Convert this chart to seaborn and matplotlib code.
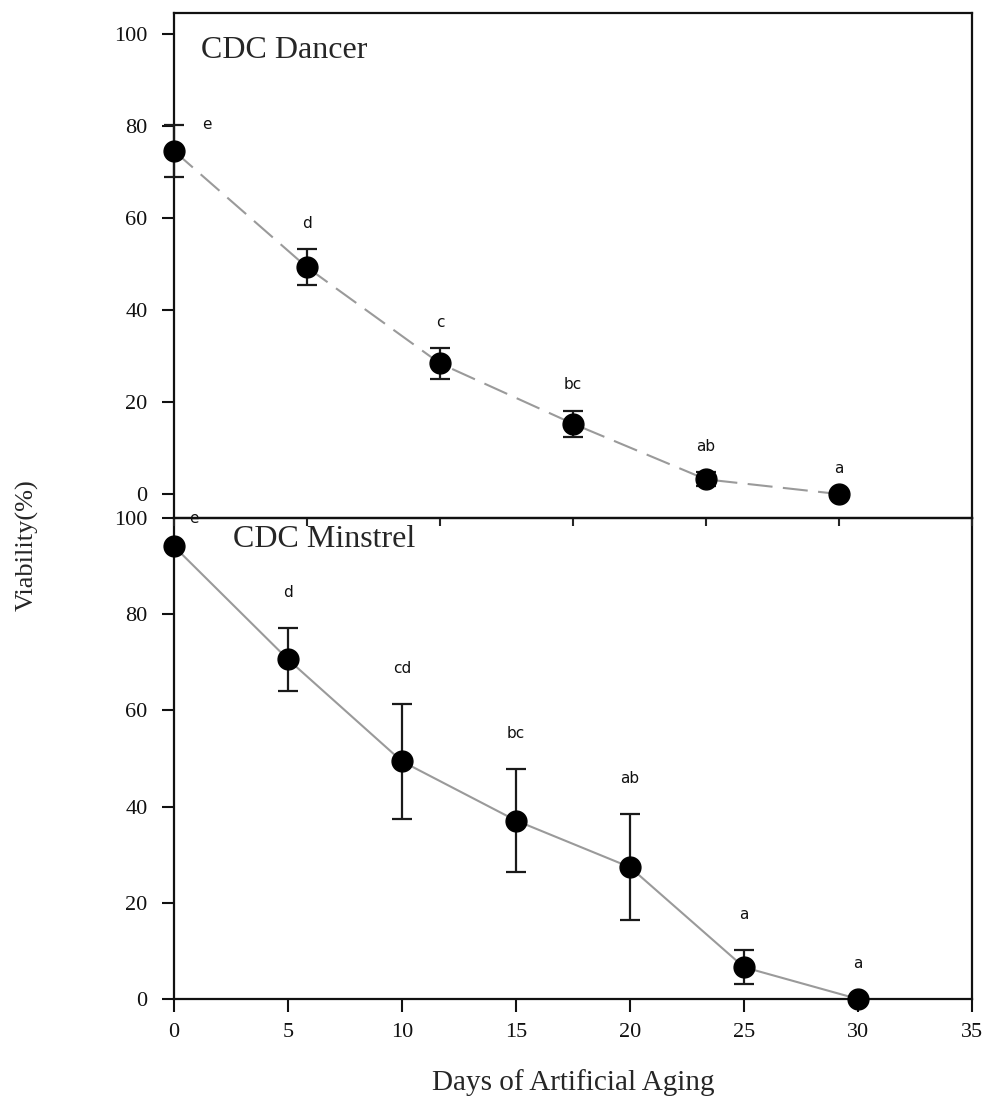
import matplotlib
matplotlib.use("Agg")
import matplotlib.pyplot as plt
import seaborn as sns
import numpy as np
import pandas as pd

# ---- data ----
dancer_days = [0, 5, 10, 15, 20, 25]
dancer_mean = [74.6, 49.3, 28.4, 15.3, 3.2, 0.0]
dancer_err = [5.7, 3.9, 3.3, 2.8, 1.5, 0.0]
dancer_letters = ["e", "d", "c", "bc", "ab", "a"]

minstrel_days = [0, 5, 10, 15, 20, 25, 30]
minstrel_mean = [94.1, 70.6, 49.4, 37.1, 27.4, 6.6, 0.0]
minstrel_err = [0.0, 6.5, 11.9, 10.7, 11.0, 3.5, 0.0]
minstrel_letters = ["e", "d", "cd", "bc", "ab", "a", "a"]

x_ticks = [0, 5, 10, 15, 20, 25, 30, 35]
y_ticks = [0, 20, 40, 60, 80, 100]

sns.set_theme(style="ticks")
serif = ["Liberation Serif", "DejaVu Serif"]
plt.rcParams["font.family"] = serif

W, H = 987, 1101
fig = plt.figure(figsize=(W / 100, H / 100), dpi=100)
left, right = 174 / W, 972 / W
top, mid, bot = 1 - 13 / H, 1 - 518 / H, 1 - 999 / H
ax2 = fig.add_axes([left, bot, right - left, mid - bot])
ax1 = fig.add_axes([left, mid, right - left, top - mid])
ax1.patch.set_alpha(0)

def draw(ax, days, mean, err, letters, ls, first_off, off):
    df = pd.DataFrame({"day": days, "viab": mean})
    sns.lineplot(data=df, x="day", y="viab", ax=ax, color="#9a9a9a",
                 linewidth=1.5, zorder=2)
    ax.lines[-1].set_linestyle(ls)
    ax.errorbar(days, mean, yerr=err, fmt="o", color="black", ecolor="#1a1a1a",
                elinewidth=1.6, capsize=7.5, capthick=1.6, markersize=15,
                zorder=3, clip_on=False)
    for i, (d, m, e, lab) in enumerate(zip(days, mean, err, letters)):
        o = first_off if i == 0 else off
        ax.annotate(lab, xy=(d, m + e), xytext=o, textcoords="offset pixels",
                    ha="center", va="center", fontsize=11,
                    family="DejaVu Sans", color="#111111",
                    annotation_clip=False)

draw(ax1, dancer_days, dancer_mean, dancer_err, dancer_letters,
     (0, (12, 5)), (33, 0), (0, 26))
draw(ax2, minstrel_days, minstrel_mean, minstrel_err, minstrel_letters,
     "-", (20, 28), (0, 36))

for ax in (ax1, ax2):
    for s in ax.spines.values():
        s.set_linewidth(1.6)
        s.set_color("#111111")
    ax.set_xlabel("")
    ax.set_ylabel("")
    ax.set_yticks(y_ticks)
    ax.tick_params(axis="y", direction="out", length=9, width=1.5,
                   pad=10, labelsize=16, colors="#111111")
    ax.tick_params(top=False, right=False)

ax1.set_xlim(0, 30)
ax1.set_ylim(-5.2, 104.6)
ax1.set_xticks([0, 5, 10, 15, 20, 25, 30])
ax1.tick_params(axis="x", direction="out", length=6, width=1.5, labelbottom=False)
ax1.text(1.0, 96.5, "CDC Dancer", fontsize=23, ha="left", va="center")

ax2.set_xlim(0, 35)
ax2.set_ylim(0, 100)
ax2.set_xticks(x_ticks)
ax2.tick_params(axis="x", direction="out", length=9, width=1.5, pad=8,
                labelsize=16, colors="#111111")
ax2.text(2.6, 95.6, "CDC Minstrel", fontsize=23, ha="left", va="center")
ax2.set_xlabel("Days of Artificial Aging", fontsize=21, labelpad=20)

fig.text(27 / W, 1 - 545 / H, "Viability(%)", rotation=90, fontsize=19,
         ha="center", va="center")

fig.savefig("out.png", dpi=100)
